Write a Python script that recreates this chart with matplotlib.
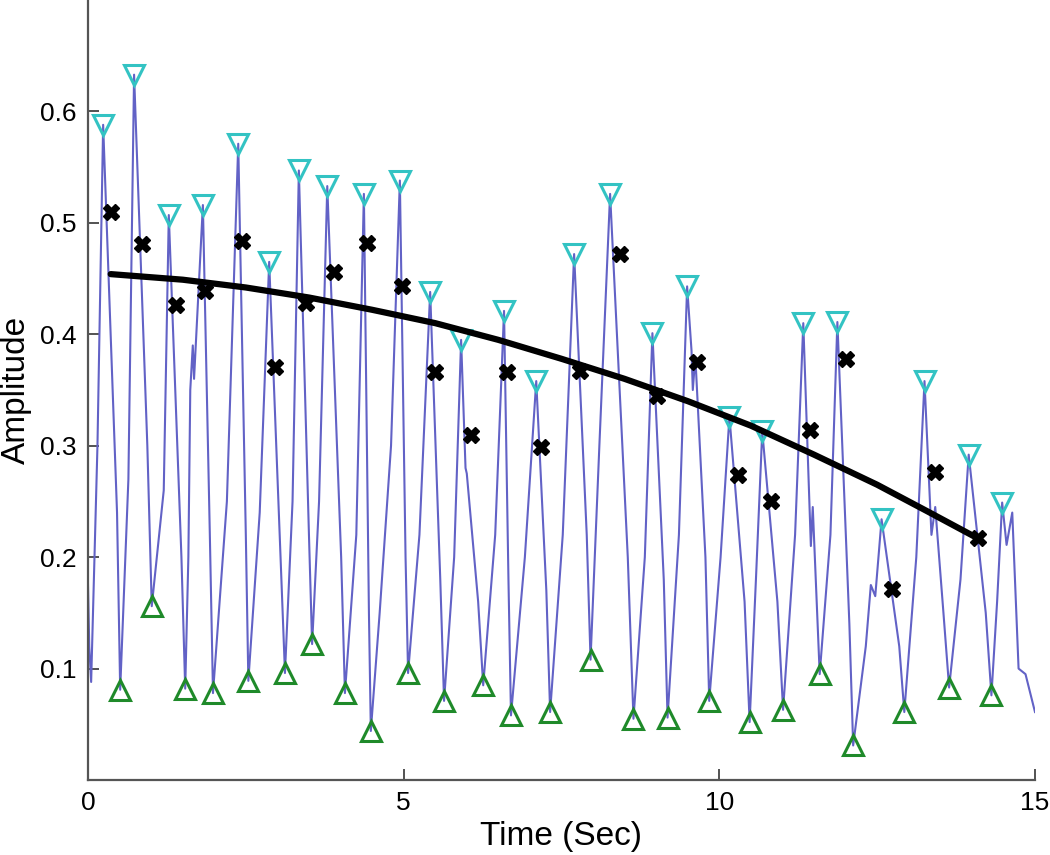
import numpy as np
import matplotlib.pyplot as plt

plt.rcParams['font.family'] = ['Liberation Sans', 'DejaVu Sans']

# signal vertices (time, amplitude)
sig_t = [0.00, 0.02, 0.05, 0.15,
         0.24, 0.46, 0.51, 0.64, 0.73, 0.94, 1.01, 1.20, 1.28, 1.48, 1.54,
         1.59, 1.62, 1.66, 1.68, 1.82, 1.93, 1.98, 2.20, 2.38, 2.50, 2.54,
         2.72, 2.87, 3.05, 3.12, 3.24, 3.34, 3.50, 3.55, 3.66, 3.79, 4.01, 4.07,
         4.25, 4.37, 4.45, 4.48, 4.62, 4.80, 4.94, 5.03, 5.07, 5.25, 5.42, 5.58, 5.64,
         5.80, 5.91, 5.98, 6.00, 6.18, 6.26, 6.45, 6.59, 6.66, 6.70, 6.92, 7.10, 7.26, 7.32,
         7.52, 7.70, 7.90, 7.96, 8.10, 8.27, 8.55, 8.64, 8.82, 8.94, 9.12, 9.18,
         9.36, 9.49, 9.56, 9.58, 9.62, 9.78, 9.84, 10.02, 10.16, 10.40, 10.48,
         10.58, 10.68, 10.92, 11.01, 11.20, 11.33, 11.42, 11.45, 11.48, 11.59,
         11.76, 11.87, 12.06, 12.12, 12.32, 12.40, 12.47, 12.57, 12.85, 12.93,
         13.12, 13.25, 13.36, 13.42, 13.55, 13.64, 13.82, 13.95, 14.22, 14.31,
         14.40, 14.48, 14.55, 14.64, 14.74, 14.85, 15.00]
sig_a = [0.175, 0.120, 0.088, 0.300,
         0.588, 0.240, 0.081, 0.270, 0.633, 0.300, 0.156, 0.260, 0.507, 0.200, 0.082,
         0.200, 0.350, 0.390, 0.360, 0.516, 0.220, 0.078, 0.250, 0.571, 0.220, 0.089,
         0.240, 0.465, 0.200, 0.096, 0.250, 0.547, 0.220, 0.122, 0.250, 0.533, 0.200, 0.078,
         0.220, 0.526, 0.150, 0.044, 0.150, 0.300, 0.538, 0.200, 0.096, 0.220, 0.438, 0.180, 0.071,
         0.200, 0.395, 0.280, 0.275, 0.160, 0.085, 0.220, 0.421, 0.180, 0.058, 0.200, 0.358, 0.170, 0.061,
         0.220, 0.472, 0.220, 0.108, 0.300, 0.526, 0.200, 0.055, 0.200, 0.401, 0.180, 0.056,
         0.220, 0.443, 0.385, 0.350, 0.380, 0.200, 0.071, 0.200, 0.326, 0.160, 0.052,
         0.180, 0.313, 0.160, 0.063, 0.220, 0.410, 0.260, 0.210, 0.245, 0.095,
         0.220, 0.411, 0.140, 0.031, 0.120, 0.175, 0.165, 0.234, 0.120, 0.061,
         0.200, 0.358, 0.220, 0.245, 0.150, 0.083, 0.180, 0.292, 0.150, 0.076,
         0.160, 0.249, 0.211, 0.240, 0.100, 0.095, 0.061]

# detected maxima
peak_t = [0.24, 0.73, 1.28, 1.82, 2.38, 2.87, 3.34, 3.79, 4.37, 4.94, 5.42, 5.91, 6.59,
          7.10, 7.70, 8.27, 8.94, 9.49, 10.16, 10.68, 11.33, 11.87, 12.57, 13.25, 13.95, 14.48]
peak_a = [0.588, 0.633, 0.507, 0.516, 0.571, 0.465, 0.547, 0.533, 0.526, 0.538, 0.438, 0.395,
          0.421, 0.358, 0.472, 0.526, 0.401, 0.443, 0.326, 0.313, 0.410, 0.411, 0.234, 0.358,
          0.292, 0.249]

# detected minima
trough_t = [0.51, 1.01, 1.54, 1.98, 2.54, 3.12, 3.55, 4.07, 4.48, 5.07, 5.64, 6.26, 6.70,
            7.32, 7.96, 8.64, 9.18, 9.84, 10.48, 11.01, 11.59, 12.12, 12.93, 13.64, 14.31]
trough_a = [0.081, 0.156, 0.082, 0.078, 0.089, 0.096, 0.122, 0.078, 0.044, 0.096, 0.071,
            0.085, 0.058, 0.061, 0.108, 0.055, 0.056, 0.071, 0.052, 0.063, 0.095, 0.031,
            0.061, 0.083, 0.076]

# cycle amplitude points
amp_t = [0.36, 0.86, 1.39, 1.85, 2.44, 2.96, 3.45, 3.90, 4.42, 4.98, 5.50, 6.07, 6.64,
         7.18, 7.80, 8.43, 9.02, 9.65, 10.30, 10.82, 11.44, 12.00, 12.73, 13.42, 14.10]
amp_a = [0.510, 0.481, 0.426, 0.439, 0.484, 0.371, 0.428, 0.456, 0.482, 0.443, 0.366,
         0.310, 0.366, 0.299, 0.367, 0.472, 0.345, 0.375, 0.274, 0.250, 0.314, 0.378,
         0.171, 0.276, 0.217]

# trend curve
trend_t = [0.36, 1.5, 2.5, 3.5, 4.5, 5.5, 6.5, 7.5, 8.5, 9.5, 10.5, 11.5, 12.5, 13.3, 14.09]
trend_a = [0.454, 0.449, 0.442, 0.433, 0.422, 0.410, 0.395, 0.378, 0.360, 0.340, 0.318,
           0.292, 0.265, 0.241, 0.217]

fig = plt.figure(figsize=(10.5, 8.55), dpi=100)
ax = fig.add_axes([0.0838, 0.0877, 0.9019, 0.9123])

ax.plot(sig_t, sig_a, color='#6262c6', lw=1.5)
ax.plot(peak_t, peak_a, 'v', ms=14, mfc='none', mec='#33c3c3', mew=2.2)
ax.plot(trough_t, trough_a, '^', ms=14, mfc='none', mec='#1f8a2a', mew=2.2)
ax.plot(trend_t, trend_a, color='black', lw=4.5, solid_capstyle='round')
ax.plot(amp_t, amp_a, 'X', ms=11, color='black', mec='black')

ax.set_xlim(0, 15)
ax.set_ylim(0, 0.7)
ax.set_xticks([0, 5, 10, 15])
ax.set_yticks([0.1, 0.2, 0.3, 0.4, 0.5, 0.6])
ax.set_yticklabels(['0.1', '0.2', '0.3', '0.4', '0.5', '0.6'])
ax.tick_params(direction='in', length=8, width=1.3, labelsize=19, color='#444444', pad=8)
for s in ['top', 'right']:
    ax.spines[s].set_visible(False)
for s in ['left', 'bottom']:
    ax.spines[s].set_linewidth(1.6)
    ax.spines[s].set_color('#555555')

ax.set_xlabel('Time (Sec)', fontsize=24, labelpad=4)
ax.set_ylabel('Amplitude', fontsize=24, labelpad=6)

plt.savefig('out.png', dpi=100)
